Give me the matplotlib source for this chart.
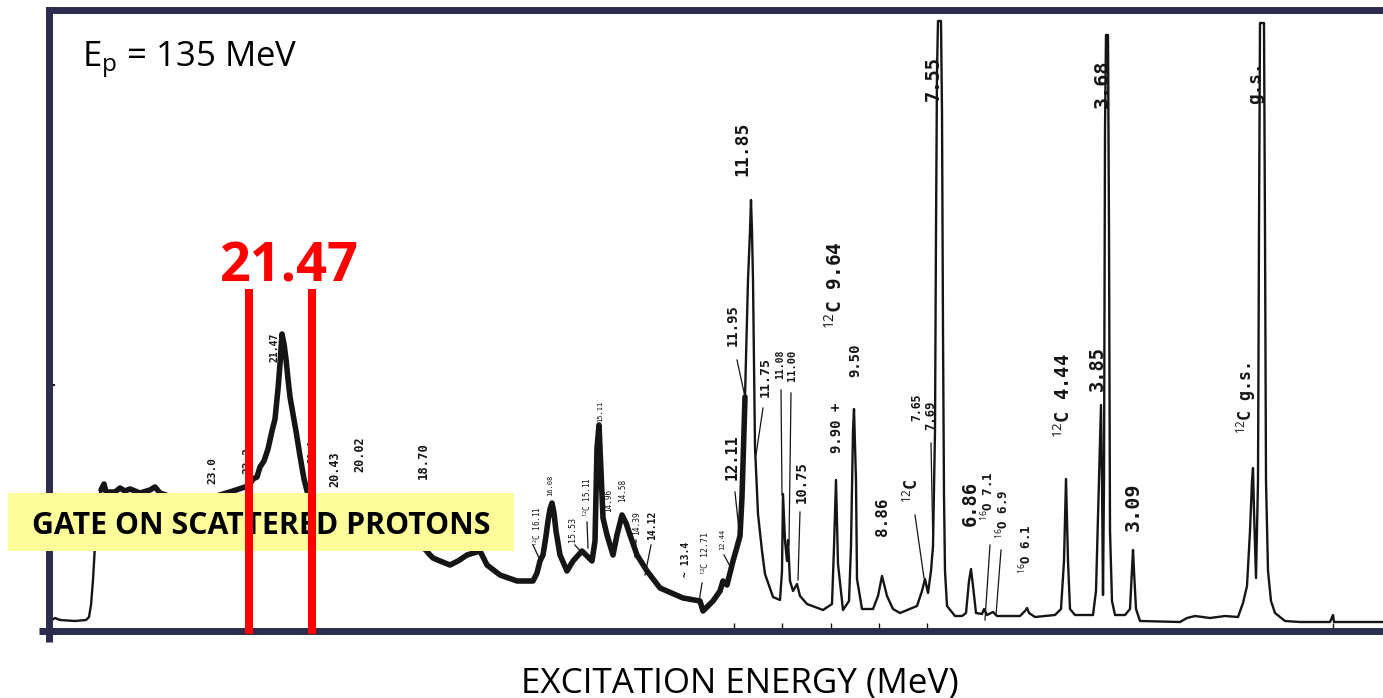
"""Proton inelastic scattering spectrum at 135 MeV with the gated 21.47 MeV region."""

import matplotlib

matplotlib.use("Agg")
import matplotlib.pyplot as plt
from matplotlib.patches import Rectangle

plt.rcParams["font.family"] = ["Open Sans", "DejaVu Sans"]
plt.rcParams["mathtext.fontset"] = "custom"
plt.rcParams["mathtext.rm"] = "Open Sans"
plt.rcParams["mathtext.it"] = "Open Sans:italic"
plt.rcParams["mathtext.bf"] = "Open Sans:bold"

# spectrum (channel, counts)
channel = [
    50, 55, 60, 75, 86, 89, 91, 93, 95, 98, 101, 104, 106, 115, 120, 125, 130, 140, 150, 155, 160, 180, 210, 233, 245,
    250, 253, 257, 260, 264, 268, 272, 275, 278, 280, 282, 284, 286, 288, 290, 293, 296, 300, 304, 307, 315, 330, 360, 390, 410, 425,
    430, 433, 440, 450, 458, 467, 480, 487, 500, 517, 533, 537, 540, 543, 546, 548, 550, 552, 554, 556, 560, 567, 573, 582, 588, 592, 595, 597, 599, 601, 603, 607, 613, 617, 622, 626, 630, 637, 647, 660, 683, 700, 703, 708, 713, 720, 723, 727, 733,
    737, 740, 742, 745, 748, 750, 751, 752, 753, 755, 758, 762, 765, 773, 780,
    782, 783, 785, 787, 788, 790, 793, 797, 800, 807, 823, 832, 834, 836, 838, 843, 849, 851, 853, 854, 856, 857, 862, 873, 878, 882, 887, 893, 900, 917,
    922, 925, 928, 931, 933, 935, 936, 937, 938, 941, 942, 943, 944, 945, 947, 955,
    962, 966, 969, 971, 973, 976, 982, 984, 987, 993, 997, 1020, 1025, 1027, 1029, 1035, 1055, 1061, 1064, 1066, 1068, 1070, 1075,
    1093, 1096, 1099, 1101, 1102, 1103, 1104, 1105, 1106, 1108, 1109, 1110, 1112, 1115, 1125, 1130, 1132, 1133, 1134, 1136, 1140,
    1180, 1187, 1195, 1210, 1225, 1238, 1243, 1247, 1250, 1252, 1253, 1254, 1256, 1258, 1259, 1260, 1264, 1265, 1266, 1268, 1271, 1275,
    1285, 1300, 1330, 1333, 1334, 1383,
]
counts = [
    10, 13, 11, 10, 11, 14, 26, 51, 86, 131, 141, 147, 139, 139, 143, 140, 142, 138, 141, 144, 138, 131, 133, 140, 144,
    147, 152, 154, 164, 170, 182, 200, 212, 242, 267, 297, 287, 272, 252, 234, 217, 200, 175, 152, 140, 127, 112, 102, 93, 86, 82,
    76, 73, 70, 66, 70, 76, 80, 66, 56, 50, 50, 58, 70, 76, 95, 110, 122, 128, 118, 100, 76, 60, 70, 80, 74, 70, 90, 183, 206, 160, 113, 96, 76, 96, 116, 108, 96, 76, 60, 43, 33, 30, 20, 25, 30, 40, 50, 46, 70,
    84, 95, 134, 234, 351, 400, 431, 400, 351, 184, 117, 80, 57, 34, 31,
    60, 137, 90, 70, 91, 50, 40, 47, 35, 27, 21, 27, 84, 151, 67, 21, 30, 85, 200, 222, 150, 52, 22, 22, 35, 55, 35, 22, 18, 25,
    40, 52, 38, 60, 85, 200, 400, 560, 610, 610, 520, 300, 135, 60, 25, 15,
    15, 18, 50, 62, 45, 18, 17, 22, 16, 19, 15, 15, 20, 23, 18, 14, 16, 22, 70, 152, 70, 22, 16,
    16, 40, 150, 226, 150, 36, 150, 500, 596, 596, 400, 100, 30, 16, 16, 22, 60, 81, 60, 22, 10,
    9, 13, 15, 13, 15, 14, 28, 45, 100, 150, 163, 120, 53, 150, 400, 608, 608, 400, 150, 60, 30, 18,
    10, 9, 9, 16, 9, 9,
]

# peak labels written on the trace: (text, channel, counts, size)
label_layout = [
    ("23.0", 212, 161, 8), ("22.2", 247, 171, 8), ("21.0", 312, 180, 7),
    ("21.47", 275, 284, 7), ("20.43", 335, 162, 8.5), ("20.02", 360, 177, 8.5),
    ("18.70", 423, 170, 8.8), ("$^{12}$C 16.11", 536, 105, 5.5), ("16.08", 550, 146, 5),
    ("15.53", 573, 102, 6), ("$^{12}$C 15.11", 586, 134, 5.5), ("15.11", 600, 220, 5),
    ("14.96", 609, 131, 5.5), ("14.58", 623, 141, 5.5), ("14.39", 637, 108, 5.7),
    ("14.12", 652, 106, 7), ("~ 13.4", 686, 72, 7), ("$^{12}$C 12.71", 704, 78, 6),
    ("12.44", 722, 92, 5), ("12.11", 732, 174, 11), ("11.95", 733, 306, 10),
    ("11.85", 742, 482, 13), ("11.75", 765, 254, 9.5), ("11.08", 780, 267, 7),
    ("11.00", 792, 266, 7.5), ("10.75", 802, 149, 10), ("9.90 +", 837, 203, 10),
    ("$^{12}$C 9.64", 834, 346, 14), ("9.50", 855, 271, 10), ("8.86", 883, 114, 11.5),
    ("$^{12}$C", 911, 140, 12), ("7.65", 917, 224, 8.3), ("7.69", 931, 216, 8.8),
    ("7.55", 933, 552, 13.5), ("6.86", 970, 128, 13.5), ("$^{16}$O 7.1", 988, 135, 9),
    ("$^{16}$O 6.9", 1003, 117, 9), ("$^{16}$O 6.1", 1026, 82, 9), ("$^{12}$C 4.44", 1064, 235, 13.5),
    ("3.85", 1097, 262, 13.5), ("3.68", 1102, 547, 14.5), ("3.09", 1133, 124, 14.5),
    ("$^{12}$C g.s.", 1246, 233, 12), ("g.s.", 1255, 548, 12.7),
]

# leader lines from a label to its peak: (x0, y0, x1, y1)
leaders = [
    (533, 86, 540, 71), (575, 86, 581, 79), (587, 109, 588, 83), (636, 91, 635, 74),
    (651, 86, 645, 56), (702, 48, 699, 29), (724, 76, 731, 63), (735, 139, 740, 91),
    (737, 271, 745, 234), (763, 223, 756, 176), (781, 241, 782, 136), (791, 238, 789, 86),
    (800, 119, 798, 51), (915, 116, 924, 53), (931, 188, 933, 81), (990, 86, 985, 11),
    (1001, 81, 996, 16),
]

gate_low, gate_high = 249, 312
gate_label = "21.47"
axis_ticks = [734, 782, 831, 879, 927, 1333]

frame = "#2b2c4e"
ink = "#151515"

fig = plt.figure(figsize=(13.83, 6.98), dpi=100)
ax = fig.add_axes([48.5 / 1383, 67 / 698, 1334.5 / 1383, 620.5 / 698])
ax.set_xlim(48.5, 1383)
ax.set_ylim(0, 620.5)

ax.plot(channel, counts, color=ink, lw=1.7, solid_joinstyle="round", zorder=2)
# the continuum below ~12 MeV is a noisy band on the recorder, draw it heavier
noisy = [i for i, c in enumerate(channel) if 100 <= c <= 745]
ax.plot([channel[i] for i in noisy], [counts[i] for i in noisy], color=ink, lw=4,
        solid_joinstyle="round", solid_capstyle="round", zorder=2)

for text, x, y, size in label_layout:
    ax.text(x, y, text, rotation=90, ha="center", va="center", fontsize=size,
            family=["DejaVu Sans Mono"], weight="bold" if size >= 7 else "normal",
            color=ink, zorder=3)

for x0, y0, x1, y1 in leaders:
    ax.plot([x0, x1], [y0, y1], color=ink, lw=0.9, zorder=2)

for spine in ("left", "bottom", "top"):
    ax.spines[spine].set_color(frame)
    ax.spines[spine].set_linewidth(5)
ax.spines["right"].set_visible(False)
ax.plot([48.5, 48.5], [-11, 0], color=frame, lw=5, clip_on=False, solid_capstyle="butt")
ax.plot([39, 48.5], [0, 0], color=frame, lw=5, clip_on=False, solid_capstyle="butt")

ax.set_xticks(axis_ticks)
ax.set_yticks([246])
ax.tick_params(axis="x", direction="in", length=6, width=1, color=ink, labelbottom=False)
ax.tick_params(axis="y", direction="in", length=4, width=1.5, color=ink, labelleft=False)

# gate window on the 21.47 MeV state
box = Rectangle((8, 80), 506, 58, facecolor="#fdfd9a", edgecolor="none", clip_on=False, zorder=4)
ax.add_patch(box)
ax.text(261, 97, "GATE ON SCATTERED PROTONS", ha="center", va="baseline", fontsize=21.8,
        weight="bold", color="black", zorder=5)
for x in (gate_low, gate_high):
    ax.plot([x, x], [-3, 342], color="#ff0000", lw=5.8, solid_capstyle="butt", clip_on=False, zorder=6)
ax.text(289, 349, gate_label, ha="center", va="baseline", fontsize=39,
        weight="bold", color="#ff0000", zorder=6)

ax.text(82, 564, r"E$_\mathregular{p}$ = 135 MeV", ha="left", va="baseline", fontsize=25, color="black")
fig.text(740 / 1383, 6 / 698, "EXCITATION ENERGY (MeV)", ha="center", va="baseline", fontsize=25.2, color="black")

fig.savefig("out.png", dpi=100)
